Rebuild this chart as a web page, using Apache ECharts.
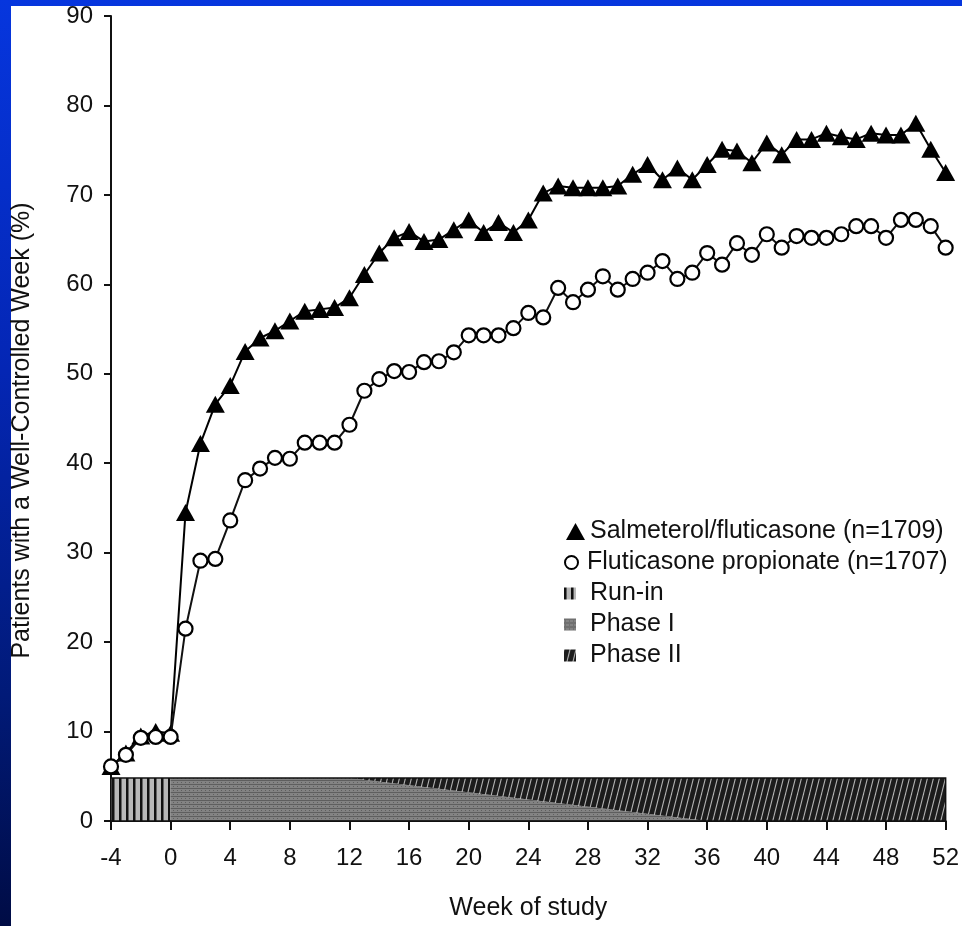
<!DOCTYPE html>
<html>
<head>
<meta charset="utf-8">
<script src="https://cdn.jsdelivr.net/npm/echarts@6/dist/echarts.min.js"></script>
<style>
html, body { margin: 0; padding: 0; }
body {
    width: 962px; height: 926px; position: relative; overflow: hidden;
    background: linear-gradient(180deg, #0636de 0%, #0426b4 40%, #011a78 75%, #000c45 100%);
}
#paper { position: absolute; left: 11px; top: 6px; right: 0; bottom: 0; background: #fff; }
#chart { position: absolute; left: 0; top: 0; width: 962px; height: 926px; }
</style>
</head>
<body>
<div id="paper"></div>
<div id="chart"></div>
<script>
// week of study (x)
var weeks = [-4, -3, -2, -1, 0, 1, 2, 3, 4, 5, 6, 7, 8, 9, 10, 11, 12, 13, 14, 15, 16,
    17, 18, 19, 20, 21, 22, 23, 24, 25, 26, 27, 28, 29, 30, 31, 32, 33, 34, 35, 36,
    37, 38, 39, 40, 41, 42, 43, 44, 45, 46, 47, 48, 49, 50, 51, 52];

// % patients with a well-controlled week
var salmeterol = [6.1, 7.6, 9.5, 10.0, 9.8, 34.5, 42.2, 46.6, 48.7, 52.5, 54.0, 54.8, 55.9,
    57.0, 57.2, 57.4, 58.5, 61.1, 63.5, 65.2, 65.9, 64.8, 65.0, 66.1, 67.2, 65.8, 66.9,
    65.8, 67.2, 70.2, 71.0, 70.8, 70.8, 70.8, 71.0, 72.3, 73.4, 71.7, 73.0, 71.7, 73.4,
    75.1, 74.9, 73.6, 75.8, 74.5, 76.2, 76.2, 76.9, 76.5, 76.2, 76.9, 76.7, 76.7, 78.0,
    75.1, 72.5];
var fluticasone = [6.1, 7.4, 9.3, 9.4, 9.4, 21.5, 29.1, 29.3, 33.6, 38.1, 39.4, 40.6, 40.5,
    42.3, 42.3, 42.3, 44.3, 48.1, 49.4, 50.3, 50.2, 51.3, 51.4, 52.4, 54.3, 54.3, 54.3,
    55.1, 56.8, 56.3, 59.6, 58.0, 59.4, 60.9, 59.4, 60.6, 61.3, 62.6, 60.6, 61.3, 63.5,
    62.2, 64.6, 63.3, 65.6, 64.1, 65.4, 65.2, 65.2, 65.6, 66.5, 66.5, 65.2, 67.2, 67.2,
    66.5, 64.1];

var nameSalm = 'Salmeterol/fluticasone (n=1709)';
var nameFlut = 'Fluticasone propionate (n=1707)';

// study phases: start/end week along the top and the bottom of the phase strip
var phaseNames = ['Run-in', 'Phase I', 'Phase II'];
var phaseTop = [[-4, 0], [0, 12], [12, 52]];
var phaseBottom = [[-4, 0], [0, 36], [36, 52]];
var stripHeight = 4.8;

var xTicks = { min: -4, max: 52, interval: 4 };
var yTicks = { min: 0, max: 90, interval: 10 };

var FONT = '"Liberation Sans", Arial, Helvetica, sans-serif';

function makePattern(w, h, draw) {
    var c = document.createElement('canvas');
    c.width = w; c.height = h;
    draw(c.getContext('2d'), w, h);
    return { image: c, repeat: 'repeat' };
}
var fills = [
    makePattern(7, 4, function (ctx, w, h) {
        ctx.fillStyle = '#b8b8b8'; ctx.fillRect(0, 0, w, h);
        ctx.fillStyle = '#111'; ctx.fillRect(0, 0, 2.5, h);
    }),
    makePattern(4, 4, function (ctx, w, h) {
        ctx.fillStyle = '#838383'; ctx.fillRect(0, 0, w, h);
        ctx.fillStyle = '#5e5e5e'; ctx.fillRect(0, 0, w, 1); ctx.fillRect(1, 2, 1, 1);
    }),
    makePattern(6, 24, function (ctx, w, h) {
        ctx.fillStyle = '#1c1c1c'; ctx.fillRect(0, 0, w, h);
        ctx.strokeStyle = '#b4b4b4'; ctx.lineWidth = 1.1;
        [-w, 0, w].forEach(function (o) {
            ctx.beginPath(); ctx.moveTo(o, h); ctx.lineTo(o + w, 0); ctx.stroke();
        });
    })
];

function renderPhase(params, api) {
    var top = api.value(4);
    var pts = [
        api.coord([api.value(0), top]),
        api.coord([api.value(1), top]),
        api.coord([api.value(3), 0]),
        api.coord([api.value(2), 0])
    ];
    return { type: 'polygon', shape: { points: pts }, style: api.style() };
}

function renderOutline(params, api) {
    var a = api.coord([api.value(0), api.value(2)]);
    var b = api.coord([api.value(1), 0]);
    return {
        type: 'rect',
        shape: { x: a[0], y: a[1], width: b[0] - a[0], height: b[1] - a[1] },
        style: { fill: 'none', stroke: '#111', lineWidth: 1.5 }
    };
}

var chart = echarts.init(document.getElementById('chart'), null, { width: 962, height: 926 });

var series = phaseNames.map(function (n, i) {
    return {
        name: n,
        type: 'custom',
        renderItem: renderPhase,
        encode: { x: [0, 1, 2, 3], y: 4 },
        itemStyle: { color: fills[i] },
        data: [[phaseTop[i][0], phaseTop[i][1], phaseBottom[i][0], phaseBottom[i][1], stripHeight]],
        z: 1,
        silent: true
    };
});
series.push({
    type: 'custom',
    renderItem: renderOutline,
    encode: { x: [0, 1], y: 2 },
    data: [[xTicks.min, xTicks.max, stripHeight]],
    z: 2,
    silent: true
});
series.push({
    name: nameSalm,
    type: 'line',
    data: weeks.map(function (w, i) { return [w, salmeterol[i]]; }),
    symbol: 'triangle',
    symbolSize: [19, 17],
    showAllSymbol: true,
    itemStyle: { color: '#000' },
    lineStyle: { color: '#000', width: 2 },
    z: 3
});
series.push({
    name: nameFlut,
    type: 'line',
    data: weeks.map(function (w, i) { return [w, fluticasone[i]]; }),
    symbol: 'circle',
    symbolSize: 14,
    showAllSymbol: true,
    itemStyle: { color: '#fff', borderColor: '#000', borderWidth: 2.2 },
    lineStyle: { color: '#111', width: 2 },
    z: 4
});

var legendText = { fontSize: 25, color: '#111', fontFamily: FONT, lineHeight: 25 };

chart.setOption({
    animation: false,
    grid: { left: 111, top: 16, width: 841, height: 807 },
    legend: [{
        orient: 'vertical', left: 561, top: 514, itemWidth: 19, itemHeight: 17,
        data: [{ name: nameSalm, icon: 'triangle' }],
        textStyle: legendText, selectedMode: false
    }, {
        orient: 'vertical', left: 559, top: 545, itemWidth: 21, itemHeight: 13,
        data: [{ name: nameFlut, icon: 'circle',
                 itemStyle: { color: '#fff', borderColor: '#000', borderWidth: 2 } }],
        textStyle: legendText, selectedMode: false
    }, {
        orient: 'vertical', left: 559, top: 576, itemWidth: 12, itemHeight: 12, itemGap: 6,
        data: phaseNames.map(function (n) { return { name: n, icon: 'rect' }; }),
        textStyle: Object.assign({ padding: [0, 0, 0, 9] }, legendText), selectedMode: false
    }],
    xAxis: {
        type: 'value',
        min: xTicks.min, max: xTicks.max, interval: xTicks.interval,
        name: 'Week of study',
        nameLocation: 'middle',
        nameGap: 75,
        nameTextStyle: { fontSize: 25, color: '#111', fontFamily: FONT },
        axisLine: { lineStyle: { color: '#111', width: 2 } },
        axisTick: { length: 9, lineStyle: { color: '#111', width: 2 } },
        axisLabel: { fontSize: 24, color: '#111', fontFamily: FONT, margin: 25 },
        splitLine: { show: false }
    },
    yAxis: {
        type: 'value',
        min: yTicks.min, max: yTicks.max, interval: yTicks.interval,
        name: 'Patients with a Well-Controlled Week (%)',
        nameLocation: 'middle',
        nameGap: 76,
        nameTextStyle: { fontSize: 25, color: '#111', fontFamily: FONT, padding: [0, 24, 0, 0] },
        axisLine: { show: true, onZero: false, lineStyle: { color: '#111', width: 2 } },
        axisTick: { show: true, length: 7, lineStyle: { color: '#111', width: 2 } },
        axisLabel: { fontSize: 24, color: '#111', fontFamily: FONT, margin: 18 },
        splitLine: { show: false }
    },
    series: series
});
</script>
</body>
</html>
